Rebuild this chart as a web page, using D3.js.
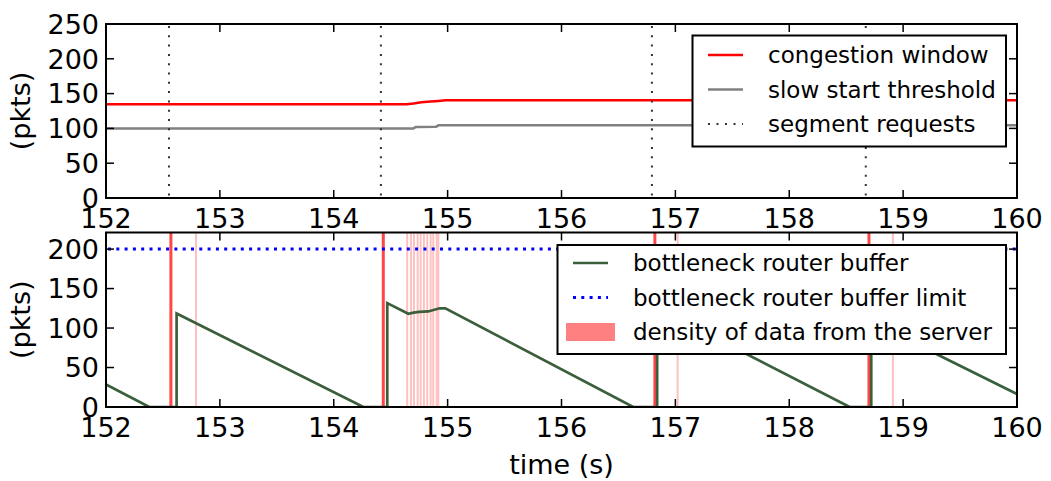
<!DOCTYPE html>
<html>
<head>
<meta charset="utf-8">
<script src="https://cdn.jsdelivr.net/npm/d3@7"></script>
<style>
  body { margin: 0; background: #fff; }
  svg { font-family: "DejaVu Sans", sans-serif; display: block; }
</style>
</head>
<body>
<div id="chart"></div>
<script>
// data
const timeDomain = [152, 160];
const timeTicks = [152, 153, 154, 155, 156, 157, 158, 159, 160];

const cwndTime = [152, 154.64, 154.70, 154.77, 154.85, 154.92, 154.98, 160];
const cwndValue = [134.6, 134.6, 135.8, 137.5, 138.5, 139.5, 140.4, 140.4];

const ssthreshTime = [152, 154.70, 154.72, 154.90, 154.92, 160];
const ssthreshValue = [100, 100, 102, 102.5, 104.4, 104.4];

const segmentRequests = [152.553, 154.414, 156.794, 158.672];

const bufferTime = [152, 152.38, 152.62, 152.62, 154.26, 154.47, 154.47, 154.655, 154.70, 154.75,
    154.83, 154.93, 154.98, 156.63, 156.84, 156.84, 158.53, 158.72, 158.72, 160];
const bufferValue = [28.5, 0, 0, 118.5, 0, 0, 131.5, 118, 119.5, 120.5,
    121, 125, 125, 0, 0, 125, 0, 0, 108, 16.5];

const bufferLimit = 200;

const burstTimes = [152.57, 154.435, 156.82, 158.70];
const trickleTimes = [152.79, 154.645, 154.678, 154.704, 154.737, 154.763, 154.792, 154.821,
    154.851, 154.874, 154.904, 154.918, 157.02, 158.91];

const topTicks = [0, 50, 100, 150, 200, 250];
const bottomTicks = [0, 50, 100, 150, 200];

const topLegend = ['congestion window', 'slow start threshold', 'segment requests'];
const bottomLegend = ['bottleneck router buffer', 'bottleneck router buffer limit', 'density of data from the server'];

// layout
const width = 1051;
const height = 481;
const plotLeft = 106;
const plotRight = 1017;
const topPanel = { y0: 24, y1: 198 };
const bottomPanel = { y0: 232.5, y1: 407 };
const tickFont = 27;
const legendFont = 23;
const tickLen = 8;

const svg = d3.select('#chart').append('svg')
    .attr('width', width)
    .attr('height', height);

const x = d3.scaleLinear().domain(timeDomain).range([plotLeft, plotRight]);
const yTop = d3.scaleLinear().domain([0, 250]).range([topPanel.y1, topPanel.y0]);
const yBottom = d3.scaleLinear().domain([0, 221]).range([bottomPanel.y1, bottomPanel.y0]);

const defs = svg.append('defs');
function clipFor (id, panel) {
    defs.append('clipPath').attr('id', id)
        .append('rect')
        .attr('x', plotLeft).attr('y', panel.y0)
        .attr('width', plotRight - plotLeft).attr('height', panel.y1 - panel.y0);
    return `url(#${id})`;
}

function drawFrame (panel, y, yTicks) {
    const g = svg.append('g');
    // inward ticks on all four sides, classic style
    timeTicks.forEach(t => {
        g.append('line').attr('x1', x(t)).attr('x2', x(t))
            .attr('y1', panel.y1).attr('y2', panel.y1 - tickLen);
        g.append('line').attr('x1', x(t)).attr('x2', x(t))
            .attr('y1', panel.y0).attr('y2', panel.y0 + tickLen);
    });
    yTicks.forEach(v => {
        g.append('line').attr('x1', plotLeft).attr('x2', plotLeft + tickLen)
            .attr('y1', y(v)).attr('y2', y(v));
        g.append('line').attr('x1', plotRight).attr('x2', plotRight - tickLen)
            .attr('y1', y(v)).attr('y2', y(v));
    });
    g.selectAll('line').attr('stroke', '#000').attr('stroke-width', 1.5);

    g.append('rect')
        .attr('x', plotLeft).attr('y', panel.y0)
        .attr('width', plotRight - plotLeft).attr('height', panel.y1 - panel.y0)
        .attr('fill', 'none').attr('stroke', '#000').attr('stroke-width', 2);

    g.selectAll('.xlab').data(timeTicks).enter()
        .append('text')
        .attr('x', d => x(d))
        .attr('y', panel.y1 + 30)
        .attr('text-anchor', 'middle')
        .attr('font-size', tickFont)
        .text(d => d);

    g.selectAll('.ylab').data(yTicks).enter()
        .append('text')
        .attr('x', plotLeft - 7)
        .attr('y', d => y(d))
        .attr('dy', '0.36em')
        .attr('text-anchor', 'end')
        .attr('font-size', tickFont)
        .text(d => d);

    const cy = (panel.y0 + panel.y1) / 2;
    g.append('text')
        .attr('transform', `translate(30,${cy}) rotate(-90)`)
        .attr('text-anchor', 'middle')
        .attr('font-size', tickFont)
        .text('(pkts)');
}

function drawLegend (box, items) {
    const g = svg.append('g').attr('transform', `translate(${box.x},${box.y})`);
    g.append('rect')
        .attr('width', box.w).attr('height', box.h)
        .attr('fill', '#fff').attr('stroke', '#000').attr('stroke-width', 2);
    items.forEach((item, i) => {
        const cy = box.rowY0 + i * box.rowStep;
        if (item.patch) {
            g.append('rect')
                .attr('x', box.sx0 - 7).attr('y', cy - 9)
                .attr('width', box.sx1 - box.sx0 + 14).attr('height', 18)
                .attr('fill', item.patch);
        } else {
            g.append('line')
                .attr('x1', box.sx0).attr('x2', box.sx1)
                .attr('y1', cy).attr('y2', cy)
                .attr('stroke', item.color)
                .attr('stroke-width', item.width)
                .attr('stroke-dasharray', item.dash || null);
        }
        g.append('text')
            .attr('x', box.tx)
            .attr('y', cy + 8)
            .attr('font-size', legendFont)
            .text(item.label);
    });
}

// ---- top panel
const topClip = clipFor('clip-top', topPanel);
const topG = svg.append('g').attr('clip-path', topClip);
const lineTop = d3.line().x(d => x(d[0])).y(d => yTop(d[1]));

topG.append('path')
    .attr('d', lineTop(d3.zip(cwndTime, cwndValue)))
    .attr('fill', 'none').attr('stroke', '#ff0000').attr('stroke-width', 2.5);
topG.append('path')
    .attr('d', lineTop(d3.zip(ssthreshTime, ssthreshValue)))
    .attr('fill', 'none').attr('stroke', '#808080').attr('stroke-width', 2.5);
topG.selectAll('.req').data(segmentRequests).enter()
    .append('line')
    .attr('x1', d => x(d)).attr('x2', d => x(d))
    .attr('y1', topPanel.y0 + 2).attr('y2', topPanel.y1)
    .attr('stroke', '#333').attr('stroke-width', 2)
    .attr('stroke-dasharray', '2,7.3');

drawFrame(topPanel, yTop, topTicks);

// ---- bottom panel
const botClip = clipFor('clip-bottom', bottomPanel);
const botG = svg.append('g').attr('clip-path', botClip);

botG.selectAll('.trickle').data(trickleTimes).enter()
    .append('line')
    .attr('x1', d => x(d)).attr('x2', d => x(d))
    .attr('y1', bottomPanel.y0).attr('y2', bottomPanel.y1)
    .attr('stroke', '#ffc0c0').attr('stroke-width', 2);
botG.selectAll('.burst').data(burstTimes).enter()
    .append('line')
    .attr('x1', d => x(d)).attr('x2', d => x(d))
    .attr('y1', bottomPanel.y0).attr('y2', bottomPanel.y1)
    .attr('stroke', '#ff4545').attr('stroke-width', 3);

botG.append('line')
    .attr('x1', plotLeft + 2).attr('x2', plotRight)
    .attr('y1', yBottom(bufferLimit)).attr('y2', yBottom(bufferLimit))
    .attr('stroke', '#0000ff').attr('stroke-width', 3)
    .attr('stroke-dasharray', '3,5.3');

const lineBottom = d3.line().x(d => x(d[0])).y(d => yBottom(d[1]));
botG.append('path')
    .attr('d', lineBottom(d3.zip(bufferTime, bufferValue)))
    .attr('fill', 'none').attr('stroke', '#3b5f3b').attr('stroke-width', 2.7)
    .attr('stroke-linejoin', 'miter');

drawFrame(bottomPanel, yBottom, bottomTicks);

svg.append('text')
    .attr('x', (plotLeft + plotRight) / 2)
    .attr('y', 474)
    .attr('text-anchor', 'middle')
    .attr('font-size', tickFont)
    .text('time (s)');

// legends
drawLegend({ x: 692.5, y: 35.5, w: 313.5, h: 111, sx0: 15.5, sx1: 50.5, tx: 75.5, rowY0: 19.5, rowStep: 34.5 }, [
    { label: topLegend[0], color: '#ff0000', width: 2.5 },
    { label: topLegend[1], color: '#808080', width: 2.5 },
    { label: topLegend[2], color: '#333', width: 2, dash: '2,6.5' }
]);
drawLegend({ x: 557.5, y: 245, w: 448.5, h: 109, sx0: 15.5, sx1: 50.5, tx: 75.5, rowY0: 18, rowStep: 34.5 }, [
    { label: bottomLegend[0], color: '#3b5f3b', width: 2.7 },
    { label: bottomLegend[1], color: '#0000ff', width: 3, dash: '3,5.3' },
    { label: bottomLegend[2], patch: '#ff8080' }
]);
</script>
</body>
</html>
